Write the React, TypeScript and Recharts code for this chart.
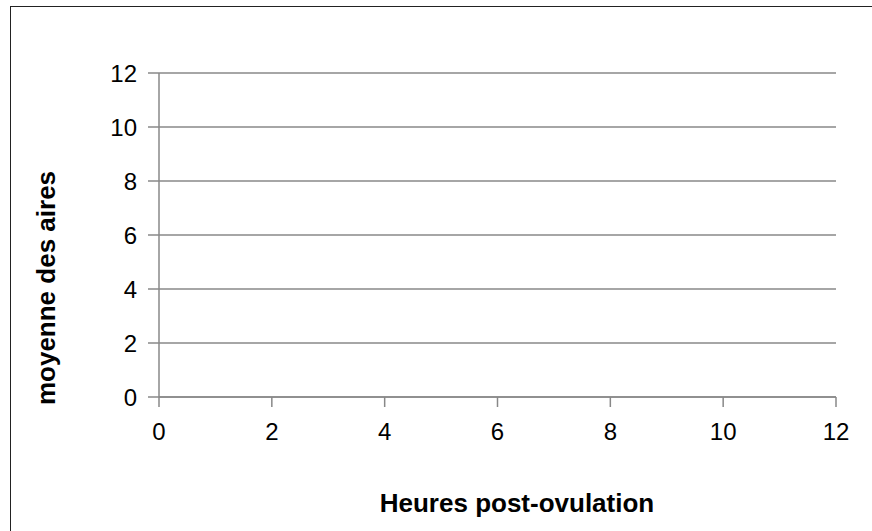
import React from 'react';
import { LineChart, Line, XAxis, YAxis, CartesianGrid } from 'recharts';

const hours = [0, 2, 4, 6, 8, 10, 12];
const moyenneAires: (number | null)[] = [null, null, null, null, null, null, null];
const xTicks = [0, 2, 4, 6, 8, 10, 12];
const yTicks = [0, 2, 4, 6, 8, 10, 12];
const xTitle = 'Heures post-ovulation';
const yTitle = 'moyenne des aires';

const data = hours.map((h, i) => ({ hours: h, moyenne: moyenneAires[i] }));

const FONT = '"Liberation Sans", Arial, sans-serif';

export default function App() {
  return (
    <div style={{ position: 'absolute', left: 0, top: 0, width: 872, height: 531, overflow: 'hidden', background: '#fff', fontFamily: FONT }}>
      <div style={{ position: 'absolute', left: 10, top: 6, width: 1014, height: 570, border: '1.5px solid #222', boxSizing: 'border-box' }} />
      <div style={{ position: 'absolute', left: 0, top: 0 }}>
        <LineChart width={872} height={531} data={data} margin={{ top: 73, right: 36, bottom: 74, left: 0 }}>
          <CartesianGrid vertical={false} stroke="#888" strokeWidth={1.5} />
          <XAxis
            type="number"
            dataKey="hours"
            domain={[0, 12]}
            ticks={xTicks}
            interval={0}
            allowDataOverflow
            height={60}
            stroke="#888"
            strokeWidth={1.5}
            tickSize={10}
            tickMargin={16}
            tick={{ fill: '#000', fontSize: 24, fontFamily: FONT }}
          />
          <YAxis
            type="number"
            domain={[0, 12]}
            ticks={yTicks}
            interval={0}
            allowDataOverflow
            width={159}
            stroke="#888"
            strokeWidth={1.5}
            tickSize={11}
            tickMargin={11}
            tick={{ fill: '#000', fontSize: 24, fontFamily: FONT }}
          />
          <Line dataKey="moyenne" stroke="#004586" dot={false} isAnimationActive={false} />
        </LineChart>
      </div>
      <div style={{ position: 'absolute', left: 0, width: 1034, top: 488, textAlign: 'center', fontWeight: 'bold', fontSize: 26, color: '#000', lineHeight: '30px', whiteSpace: 'nowrap' }}>
        {xTitle}
      </div>
      <div style={{ position: 'absolute', left: 46, top: 288, width: 0, height: 0 }}>
        <div style={{ position: 'absolute', left: 0, top: 0, transform: 'translate(-50%, -50%) rotate(-90deg)', whiteSpace: 'nowrap', fontWeight: 'bold', fontSize: 26, color: '#000', lineHeight: '30px' }}>
          {yTitle}
        </div>
      </div>
    </div>
  );
}
